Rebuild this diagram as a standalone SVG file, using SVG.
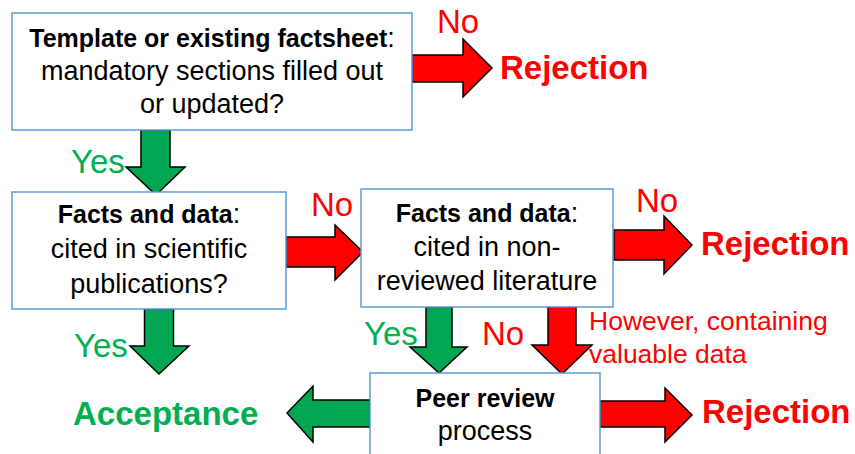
<svg xmlns="http://www.w3.org/2000/svg" width="855" height="454" viewBox="0 0 855 454">
<style>
.box{fill:#fff;stroke:#5B9BD5;stroke-width:1.5}
.t{font-family:"Liberation Sans",Arial,sans-serif;font-size:27px;fill:#000;text-anchor:middle}
.b{font-weight:bold;font-size:25px}
.red{fill:#FF0000;stroke:#000;stroke-width:1.5;stroke-linejoin:miter}
.grn{fill:#00A651;stroke:#000;stroke-width:1.5;stroke-linejoin:miter}
.lr{font-family:"Liberation Sans",Arial,sans-serif;fill:#FF0000}
.lg{font-family:"Liberation Sans",Arial,sans-serif;fill:#00B050}
.yn{font-size:33px}
.big{font-size:33px;font-weight:bold}
</style>
<rect width="855" height="454" fill="#fff"/>
<g id="connectors">
<polygon class="red" points="412,55 463,55 463,39 492,68 463,97 463,82 412,82"/>
<polygon class="grn" points="141,130 170,130 170,167 185,167 156,195 126,167 141,167"/>
<polygon class="red" points="286,237 335,237 335,225 363,252 335,280 335,267 286,267"/>
<polygon class="grn" points="144.5,309 173.5,309 173.5,346 189,346 159,374 130,346 144.5,346"/>
<polygon class="red" points="614,230 664,230 664,216 692,245 664,274 664,260 614,260"/>
<polygon class="grn" points="426,307 452,307 452,347 467,347 439,373 410,347 426,347"/>
<polygon class="red" points="548,307 576,307 576,345 592,345 562,374 532,345 548,345"/>
<polygon class="grn" points="370,400 313,400 313,386 287,413 313,442 313,427 370,427"/>
<polygon class="red" points="600,401 665,401 665,388 692,415 665,442 665,427 600,427"/>
<text class="lr yn" x="437" y="33">No</text>
<text class="lg yn" x="71" y="173">Yes</text>
<text class="lr yn" x="311" y="216">No</text>
<text class="lr yn" x="636" y="212">No</text>
<text class="lg yn" x="74" y="357">Yes</text>
<text class="lg yn" x="364" y="345">Yes</text>
<text class="lr yn" x="482" y="345">No</text>
<text class="lr" font-size="26.5" x="589" y="330">However, containing</text>
<text class="lr" font-size="26.5" x="589" y="363">valuable data</text>
</g>
<g id="node-template">
<rect class="box" x="12" y="13" width="400" height="117"/>
<text class="t" x="212" y="47"><tspan class="b">Template or existing factsheet</tspan>:</text>
<text class="t" x="212" y="80">mandatory sections filled out</text>
<text class="t" x="212" y="113">or updated?</text>
</g>
<g id="node-rejection1"><text class="lr big" x="500" y="79">Rejection</text></g>
<g id="node-scientific">
<rect class="box" x="12" y="192" width="274" height="117"/>
<text class="t" x="149" y="223"><tspan class="b">Facts and data</tspan>:</text>
<text class="t" x="149" y="258">cited in scientific</text>
<text class="t" x="149" y="293">publications?</text>
</g>
<g id="node-nonreviewed">
<rect class="box" x="361" y="189" width="252" height="118"/>
<text class="t" x="487" y="222"><tspan class="b">Facts and data</tspan>:</text>
<text class="t" x="487" y="256">cited in non-</text>
<text class="t" x="487" y="290">reviewed literature</text>
</g>
<g id="node-rejection2"><text class="lr big" x="701" y="255">Rejection</text></g>
<g id="node-peer">
<rect class="box" x="370" y="373" width="230" height="90"/>
<text class="t b" x="485" y="407">Peer review</text>
<text class="t" x="485" y="440" font-size="25">process</text>
</g>
<g id="node-rejection3"><text class="lr big" x="702" y="423">Rejection</text></g>
<g id="node-acceptance"><text class="lg big" x="73" y="425">Acceptance</text></g>
</svg>
